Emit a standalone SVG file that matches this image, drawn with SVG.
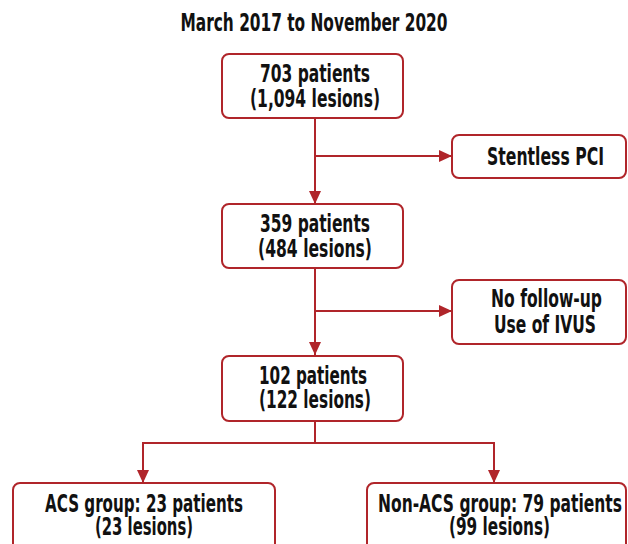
<svg xmlns="http://www.w3.org/2000/svg" width="628" height="544" viewBox="0 0 628 544">
  <style>
    .box { fill: #ffffff; stroke: #b0252a; stroke-width: 2; }
    .t { font-family: "Liberation Sans Narrow", "DejaVu Sans Condensed", "Liberation Sans", sans-serif; font-weight: bold; font-size: 24.5px; fill: #111111; text-anchor: middle; }
    .title { font-size: 25px; }
    .c { fill: none; stroke: #b0252a; stroke-width: 2; }
  </style>
  <defs>
    <marker id="arr" markerUnits="userSpaceOnUse" markerWidth="14" markerHeight="14" viewBox="0 0 14 14" refX="13" refY="7" orient="auto">
      <path d="M0,1 L13,7 L0,13 Z" fill="#b0252a"/>
    </marker>
  </defs>
  <rect width="628" height="544" fill="#ffffff"/>

  <text class="t title" x="314" y="31" textLength="267" lengthAdjust="spacingAndGlyphs">March 2017 to November 2020</text>

  <g id="connectors">
    <path class="c" d="M315,118 V204" marker-end="url(#arr)"/>
    <path class="c" d="M315,156 H452" marker-end="url(#arr)"/>
    <path class="c" d="M315,268 V355" marker-end="url(#arr)"/>
    <path class="c" d="M315,311 H452" marker-end="url(#arr)"/>
    <path class="c" d="M315,421 V443"/>
    <path class="c" d="M143,443 H494"/>
    <path class="c" d="M143,442 V483" marker-end="url(#arr)"/>
    <path class="c" d="M494,442 V483" marker-end="url(#arr)"/>
  </g>

  <g id="n703">
    <rect class="box" x="222" y="54" width="181" height="64" rx="7"/>
    <text class="t" x="315" y="82" textLength="110" lengthAdjust="spacingAndGlyphs">703 patients</text>
    <text class="t" x="315" y="107" textLength="130" lengthAdjust="spacingAndGlyphs">(1,094 lesions)</text>
  </g>

  <g id="stentless">
    <rect class="box" x="452" y="135" width="174" height="43" rx="7"/>
    <text class="t" x="545.5" y="165" textLength="117" lengthAdjust="spacingAndGlyphs">Stentless PCI</text>
  </g>

  <g id="n359">
    <rect class="box" x="222" y="204" width="181" height="64" rx="7"/>
    <text class="t" x="315" y="232" textLength="110" lengthAdjust="spacingAndGlyphs">359 patients</text>
    <text class="t" x="315" y="257" textLength="114" lengthAdjust="spacingAndGlyphs">(484 lesions)</text>
  </g>

  <g id="nofollow">
    <rect class="box" x="452" y="280" width="174" height="64" rx="7"/>
    <text class="t" x="546.5" y="307" textLength="111" lengthAdjust="spacingAndGlyphs">No follow-up</text>
    <text class="t" x="545" y="333" textLength="102" lengthAdjust="spacingAndGlyphs">Use of IVUS</text>
  </g>

  <g id="n102">
    <rect class="box" x="222" y="356" width="181" height="65" rx="7"/>
    <text class="t" x="313" y="384" textLength="108" lengthAdjust="spacingAndGlyphs">102 patients</text>
    <text class="t" x="315" y="408" textLength="112" lengthAdjust="spacingAndGlyphs">(122 lesions)</text>
  </g>

  <g id="acs">
    <rect class="box" x="13" y="483" width="262" height="80" rx="7"/>
    <text class="t" x="144" y="512" textLength="198" lengthAdjust="spacingAndGlyphs">ACS group: 23 patients</text>
    <text class="t" x="144" y="535" textLength="98" lengthAdjust="spacingAndGlyphs">(23 lesions)</text>
  </g>

  <g id="nonacs">
    <rect class="box" x="367" y="483" width="259" height="80" rx="7"/>
    <text class="t" x="500" y="512" textLength="244" lengthAdjust="spacingAndGlyphs">Non-ACS group: 79 patients</text>
    <text class="t" x="499.5" y="535" textLength="101" lengthAdjust="spacingAndGlyphs">(99 lesions)</text>
  </g>
</svg>
